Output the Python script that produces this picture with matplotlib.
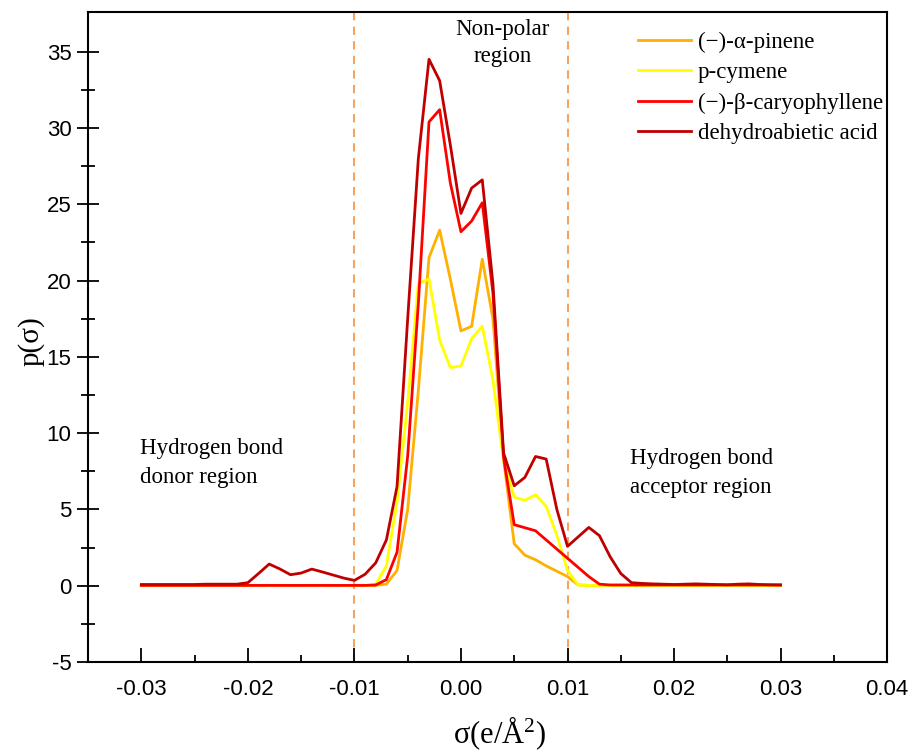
import numpy as np
import matplotlib
matplotlib.use("Agg")
import matplotlib.pyplot as plt
from matplotlib.ticker import MultipleLocator, FixedLocator, FormatStrFormatter

plt.rcParams["axes.unicode_minus"] = False
plt.rcParams["mathtext.fontset"] = "custom"
plt.rcParams["mathtext.rm"] = "Liberation Serif"
plt.rcParams["mathtext.default"] = "rm"

# sigma grid (e/Å^2), step 0.001 from -0.030 to 0.030
sigma = np.round(np.arange(-30, 31) * 0.001, 3)

# values for sigma = -0.030 ... 0.030
a_pinene = [
    0.02, 0.02, 0.02, 0.02, 0.02, 0.02, 0.02, 0.02, 0.02, 0.02,   # -30..-21
    0.02, 0.02, 0.02, 0.02, 0.02, 0.02, 0.02, 0.02, 0.02, 0.02,   # -20..-11
    0.02, 0.02, 0.02, 0.1, 1.0, 5.0, 12.8, 21.5, 23.3, 20.1,     # -10..-1
    16.7, 17.0, 21.4, 17.5, 8.3, 2.75, 2.0, 1.7, 1.3, 0.95,       # 0..9
    0.6, 0.05, 0.02, 0.02, 0.02, 0.02, 0.02, 0.02, 0.02, 0.02,    # 10..19
    0.02, 0.02, 0.02, 0.02, 0.02, 0.02, 0.02, 0.02, 0.02, 0.02,   # 20..29
    0.02]                                                          # 30
p_cymene = [
    0.02, 0.02, 0.02, 0.02, 0.02, 0.02, 0.02, 0.02, 0.02, 0.02,
    0.02, 0.02, 0.02, 0.02, 0.02, 0.02, 0.02, 0.02, 0.02, 0.02,
    0.02, 0.02, 0.1, 1.3, 5.5, 12.0, 19.8, 20.1, 16.1, 14.3,
    14.4, 16.2, 17.0, 13.5, 8.2, 5.8, 5.6, 5.96, 5.2, 3.3,
    1.0, 0.05, 0.02, 0.02, 0.02, 0.02, 0.02, 0.02, 0.02, 0.02,
    0.02, 0.02, 0.02, 0.02, 0.02, 0.02, 0.02, 0.02, 0.02, 0.02,
    0.02]
b_caryophyllene = [
    0.02, 0.02, 0.02, 0.02, 0.02, 0.02, 0.02, 0.02, 0.02, 0.02,
    0.02, 0.02, 0.02, 0.02, 0.02, 0.02, 0.02, 0.02, 0.02, 0.02,
    0.02, 0.02, 0.05, 0.4, 2.2, 8.5, 18.5, 30.4, 31.2, 26.4,
    23.2, 23.9, 25.1, 19.2, 8.4, 4.0, 3.8, 3.6, 3.0, 2.4,
    1.8, 1.2, 0.6, 0.1, 0.05, 0.05, 0.05, 0.05, 0.05, 0.05,
    0.05, 0.05, 0.05, 0.05, 0.05, 0.05, 0.05, 0.05, 0.05, 0.05,
    0.05]
dehydroabietic = [
    0.08, 0.08, 0.08, 0.08, 0.08, 0.08, 0.1, 0.1, 0.1, 0.1,
    0.2, 0.8, 1.42, 1.1, 0.72, 0.83, 1.09, 0.9, 0.7, 0.5,
    0.35, 0.75, 1.5, 3.0, 6.5, 17.5, 28.0, 34.5, 33.1, 28.9,
    24.4, 26.06, 26.6, 19.8, 8.7, 6.55, 7.1, 8.47, 8.3, 5.0,
    2.58, 3.2, 3.82, 3.28, 1.9, 0.8, 0.2, 0.15, 0.12, 0.1,
    0.08, 0.1, 0.12, 0.1, 0.08, 0.06, 0.1, 0.12, 0.08, 0.06,
    0.05]

labels = ["(\u2212)-\u03b1-pinene", "p-cymene",
          "(\u2212)-\u03b2-caryophyllene", "dehydroabietic acid"]
colors = ["#FFB000", "#FFFF00", "#FF0000", "#C00000"]
series = [a_pinene, p_cymene, b_caryophyllene, dehydroabietic]

xticks = [-0.03, -0.02, -0.01, 0.00, 0.01, 0.02, 0.03, 0.04]
yticks = [-5, 0, 5, 10, 15, 20, 25, 30, 35]
yminor = [-2.5, 2.5, 7.5, 12.5, 17.5, 22.5, 27.5, 32.5]
region_bounds = [-0.01, 0.01]

serif = ["Liberation Serif", "DejaVu Serif"]
sans = ["Liberation Sans", "DejaVu Sans"]

fig = plt.figure(figsize=(9.08, 7.51), dpi=100)
ax = fig.add_axes([0.097, 0.1185, 0.880, 0.8655])

for vals, lab, col in zip(series, labels, colors):
    ax.plot(sigma, vals, color=col, lw=2.0, label=lab)

for xb in region_bounds:
    ax.axvline(xb, color="#F4A460", lw=1.5, ls=(0, (4, 3)), zorder=0)

ax.set_xlim(-0.035, 0.04)
ax.set_ylim(-5, 37.6)
ax.set_xticks(xticks)
ax.set_yticks(yticks)
ax.xaxis.set_major_formatter(FormatStrFormatter("%.2f"))
ax.xaxis.set_minor_locator(MultipleLocator(0.005))
ax.yaxis.set_minor_locator(FixedLocator(yminor))
ax.tick_params(axis="x", which="major", direction="in", length=10, width=1.3)
ax.tick_params(axis="x", which="minor", direction="in", length=5, width=1.3)
ax.tick_params(axis="y", which="major", direction="inout", length=16, width=1.3)
ax.tick_params(axis="y", which="minor", direction="inout", length=10, width=1.3)
for lab in ax.get_xticklabels() + ax.get_yticklabels():
    lab.set_family(sans)
    lab.set_fontsize(16)
ax.tick_params(axis="x", pad=12)
ax.tick_params(axis="y", pad=4)
for sp in ax.spines.values():
    sp.set_linewidth(1.5)

fig.text(500 / 908, 1 - 733 / 751, "\u03c3(e/\u00c5$^{2}$)", fontsize=22,
         family=serif, ha="center", va="center")
fig.text(31 / 908, 1 - 341 / 751, "p(\u03c3)", fontsize=21, family=serif,
         ha="center", va="center", rotation=90)

ax.text(0.0039, 35.55, "Non-polar\nregion", ha="center", va="center",
        fontsize=16.5, family=serif, linespacing=1.4)
ax.text(-0.0301, 8.06, "Hydrogen bond\ndonor region", ha="left", va="center",
        fontsize=16.5, family=serif, linespacing=1.5)
ax.text(0.0159, 7.4, "Hydrogen bond\nacceptor region", ha="left", va="center",
        fontsize=16.5, family=serif, linespacing=1.5)

leg = ax.legend(loc="upper left", bbox_to_anchor=(0.671, 0.99), frameon=False,
                prop={"family": serif, "size": 16.5}, handlelength=2.3,
                handletextpad=0.3, labelspacing=0.39, borderaxespad=0.2)

fig.savefig("out.png", dpi=100)
